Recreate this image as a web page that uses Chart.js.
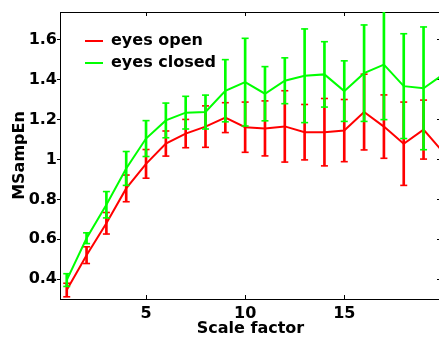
<!DOCTYPE html>
<html>
<head>
<meta charset="utf-8">
<script src="https://cdn.jsdelivr.net/npm/chart.js@4"></script>
<style>
html,body{margin:0;padding:0;overflow:hidden;background:#fff;width:439px;height:338px}
#wrap{position:absolute;left:0;top:0;width:445px;height:338px}
</style>
</head>
<body>
<div id="wrap"><canvas id="c"></canvas></div>
<script>
// ---- data ----
const scaleFactors = [1,2,3,4,5,6,7,8,9,10,11,12,13,14,15,16,17,18,19,20];
const seriesNames = ['eyes open', 'eyes closed'];
const eyesOpenMean = [0.345,0.52,0.68,0.855,0.978,1.08,1.13,1.165,1.21,1.162,1.156,1.166,1.137,1.137,1.145,1.238,1.165,1.079,1.15,1.035];
const eyesOpenErr  = [0.034,0.042,0.054,0.067,0.072,0.063,0.071,0.104,0.075,0.126,0.138,0.179,0.139,0.169,0.156,0.19,0.159,0.209,0.148,0.15];
const eyesClosedMean = [0.395,0.605,0.773,0.955,1.105,1.196,1.235,1.238,1.345,1.388,1.33,1.395,1.42,1.427,1.343,1.433,1.476,1.368,1.357,1.427];
const eyesClosedErr  = [0.032,0.027,0.066,0.085,0.09,0.087,0.082,0.085,0.156,0.22,0.136,0.115,0.235,0.164,0.152,0.242,0.276,0.263,0.308,0.2];
const xTickValues = [5, 10, 15];
const yTickValues = [0.4, 0.6, 0.8, 1, 1.2, 1.4, 1.6];
const yTickLabels = ['0.4', '0.6', '0.8', '1', '1.2', '1.4', '1.6'];
const xRange = [0.66, 19.88];
const yRange = [0.3, 1.74];

const RED = 'rgb(255,0,0)';
const GREEN = 'rgb(0,255,0)';
const FONT = {family: "'DejaVu Sans', sans-serif", size: 16, weight: 'bold'};

Chart.defaults.font = FONT;
Chart.defaults.color = '#000';

const linePts = (m) => scaleFactors.map((x, i) => ({x, y: m[i]}));
const barPts = (m, e) => scaleFactors.map((x, i) => ({x, y: [m[i] - e[i], m[i] + e[i]]}));
const capPts = (m, e) => scaleFactors.flatMap((x, i) => [{x, y: m[i] - e[i]}, {x, y: m[i] + e[i]}]);

function lineDs(label, m, color, order) {
  return {type: 'line', label, data: linePts(m), borderColor: color, backgroundColor: color,
    pointBorderColor: color, pointBackgroundColor: color, pointBorderWidth: 2,
    borderWidth: 2, pointRadius: 0, tension: 0, order, clip: 0, xAxisID: 'x', yAxisID: 'y'};
}
function barDs(m, e, color, order) {
  return {type: 'bar', label: '_bar', data: barPts(m, e), backgroundColor: color, borderWidth: 0,
    barThickness: 2, grouped: false, order, clip: 0, xAxisID: 'x', yAxisID: 'y'};
}
function capDs(m, e, color, order) {
  return {type: 'line', label: '_cap', data: capPts(m, e), showLine: false, pointStyle: 'line',
    pointRadius: 3.5, pointBorderWidth: 1.6, pointBorderColor: color, borderColor: color,
    backgroundColor: color, order, clip: 0, xAxisID: 'x', yAxisID: 'y'};
}

const legendInside = {
  id: 'legendInside',
  beforeLayout(chart) {
    const lg = chart.legend;
    if (lg && !lg._patchedFit) {
      const orig = lg.fit;
      lg.fit = function () { orig.call(this); this.width = 0; };
      lg._patchedFit = true;
    }
  },
  afterUpdate(chart) {
    const lg = chart.legend;
    if (!lg) return;
    const w = 230, h = 70;
    lg.left = 79; lg.top = 27;
    lg.right = lg.left + w; lg.bottom = lg.top + h;
    lg.width = w; lg.height = h;
    lg.adjustHitBoxes();
  }
};

new Chart(document.getElementById('c'), {
  type: 'line',
  data: {
    datasets: [
      lineDs(seriesNames[0], eyesOpenMean, RED, 2),
      lineDs(seriesNames[1], eyesClosedMean, GREEN, 0),
      barDs(eyesOpenMean, eyesOpenErr, RED, 3),
      capDs(eyesOpenMean, eyesOpenErr, RED, 3),
      barDs(eyesClosedMean, eyesClosedErr, GREEN, 1),
      capDs(eyesClosedMean, eyesClosedErr, GREEN, 1)
    ]
  },
  options: {
    responsive: true,
    maintainAspectRatio: false,
    animation: false,
    events: [],
    layout: {padding: 0, autoPadding: false},
    plugins: {
      tooltip: {enabled: false},
      legend: {
        position: 'left',
        align: 'start',
        labels: {
          usePointStyle: true,
          pointStyle: 'line',
          pointStyleWidth: 18,
          padding: 6,
          color: '#000',
          font: FONT,
          filter: (item) => item.datasetIndex < 2,
          sort: (a, b) => a.datasetIndex - b.datasetIndex
        }
      }
    },
    scales: {
      x: {
        type: 'linear', position: 'bottom', min: xRange[0], max: xRange[1], offset: false,
        afterBuildTicks: (s) => { s.ticks = xTickValues.map(v => ({value: v})); },
        afterFit: (s) => { s.height = 39; },
        ticks: {color: '#000', font: FONT, padding: 9, maxRotation: 0, autoSkip: false, callback: (v) => String(v)},
        grid: {display: true, offset: false, drawOnChartArea: false, drawTicks: true, tickLength: -4, color: '#000', lineWidth: 1},
        border: {display: true, color: '#000', width: 1},
        title: {display: true, text: 'Scale factor', color: '#000', font: FONT, padding: {top: 0, bottom: 0}}
      },
      x2: {
        type: 'linear', position: 'top', min: xRange[0], max: xRange[1], offset: false,
        afterBuildTicks: (s) => { s.ticks = xTickValues.map(v => ({value: v})); },
        afterFit: (s) => { s.height = 12; },
        ticks: {display: false},
        grid: {display: true, offset: false, drawOnChartArea: false, drawTicks: true, tickLength: -4, color: '#000', lineWidth: 1},
        border: {display: true, color: '#000', width: 1}
      },
      y: {
        type: 'linear', position: 'left', min: yRange[0], max: yRange[1],
        afterBuildTicks: (s) => { s.ticks = yTickValues.map(v => ({value: v})); },
        afterFit: (s) => { s.width = 60; },
        ticks: {color: '#000', font: FONT, padding: 0, autoSkip: false, callback: (v, i) => yTickLabels[i]},
        grid: {display: true, drawOnChartArea: false, drawTicks: true, tickLength: 3, color: '#000', lineWidth: 1},
        border: {display: true, color: '#000', width: 1},
        title: {display: true, text: 'MSampEn', color: '#000', font: FONT, padding: {top: 10, bottom: 0}}
      },
      y2: {
        type: 'linear', position: 'right', min: yRange[0], max: yRange[1],
        afterBuildTicks: (s) => { s.ticks = yTickValues.map(v => ({value: v})); },
        afterFit: (s) => { s.width = 4; },
        ticks: {display: false},
        grid: {display: true, drawOnChartArea: false, drawTicks: true, tickLength: -4, color: '#000', lineWidth: 1},
        border: {display: true, color: '#000', width: 1}
      }
    }
  },
  plugins: [legendInside]
});
</script>
</body>
</html>
